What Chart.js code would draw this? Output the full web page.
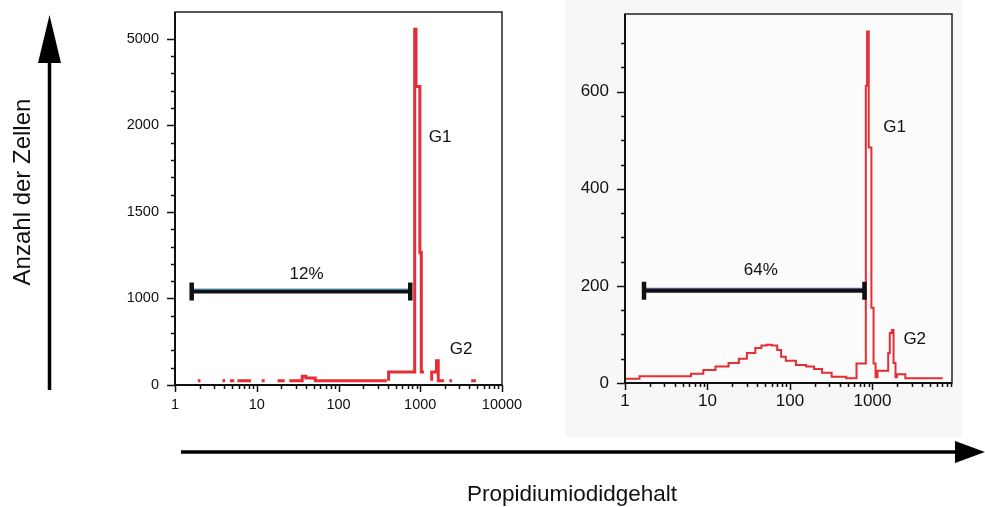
<!DOCTYPE html>
<html>
<head>
<meta charset="utf-8">
<script src="https://cdn.jsdelivr.net/npm/chart.js@4.4.1/dist/chart.umd.min.js"></script>
<style>
  body { margin: 0; background: #fff; font-family: "Liberation Sans", Arial, sans-serif; }
  #wrap { position: relative; width: 985px; height: 507px; overflow: hidden; }
  .box { position: absolute; }
  #rbg { position: absolute; left: 565px; top: 0; width: 397px; height: 437px; background: #f7f7f7; }
  #ylab { position: absolute; left: 22px; top: 192px; transform: translate(-50%, -50%) rotate(-90deg);
          font-size: 24px; color: #111; white-space: nowrap; }
  #xlab { position: absolute; left: 572px; top: 494px; transform: translate(-50%, -50%);
          font-size: 22.5px; color: #111; white-space: nowrap; }
  svg { position: absolute; left: 0; top: 0; }
</style>
</head>
<body>
<div id="wrap">
  <div id="rbg"></div>
  <div class="box" style="left:100px;top:0"><canvas id="leftChart" width="430" height="430"></canvas></div>
  <div class="box" style="left:560px;top:0"><canvas id="rightChart" width="410" height="440"></canvas></div>
  <svg width="985" height="507">
    <line x1="49.5" y1="390" x2="49.5" y2="60" stroke="#000" stroke-width="3.5"/>
    <polygon points="38,63 61,63 49.5,15" fill="#000"/>
    <line x1="181" y1="452" x2="958" y2="452" stroke="#000" stroke-width="3.5"/>
    <polygon points="955,441 955,463 985,452" fill="#000"/>
  </svg>
  <div id="ylab">Anzahl der Zellen</div>
  <div id="xlab">Propidiumiodidgehalt</div>
</div>

<script>
// ---- left panel (12%) ----
var leftTickValues = [0, 1000, 1500, 2000, 5000];   // broken y axis, one step per label
var leftPi = [1.9, 2.05, 2.1, 3.8, 4.1, 4.3, 4.7, 5.3, 5.5, 5.8, 8.5, 9, 11.5, 12.5, 13,
              18, 22, 23, 25, 36, 40, 52, 58, 390, 400, 410, 855, 887, 990, 1030, 1070, 1110, 1120,
              1380, 1580, 1660, 1950, 2100, 2270, 2450, 2500, 4200, 4800, 4900];
var leftCount = [50, 50, null, 50, 50, null, 50, 50, null, 50, 50, null, 50, 50, null,
                 50, 50, null, 50, 50, 100, 80, 50, 50, null, 50, 150, 5330, 3350, 1265, 150, 150, null,
                 50, 150, 280, 50, null, 50, 50, null, 50, 50, null];
var leftBarPi = [1.6, 755];
var leftBarCount = 1040;
var leftNotes = [["G1", 1754, 1930], ["G2", 3162, 417], ["12%", 40.7, 1137]];

// ---- right panel (64%) ----
var rightPi = [1, 1.5, 6.3, 8.9, 12.5, 18, 24, 30, 38, 45, 52, 60, 70, 78, 89, 118, 157, 196, 245,
               320, 480, 640, 830, 860, 900, 970, 1030, 1090, 1150, 1550, 1620, 1720, 1800, 1900,
               1980, 2500, 2800, 7100];
var rightCount = [11, 9, 14, 19, 27, 34, 41, 50, 62, 72, 77, 79, 77, 68, 54, 46, 37, 34, 29,
                  21, 13, 10, 40, 612, 724, 485, 155, 40, 12, 25, 62, 103, 109, 41,
                  12, 18, 10, 10];
var rightBarPi = [1.7, 800];
var rightBarCount = 190;
var rightNotes = [["G1", 1854, 526], ["G2", 3250, 91], ["64%", 44.3, 233]];

var red = "#e52d35";

function leftAxisPos(v) {
    if (v === null) return null;
    var t = leftTickValues;
    for (var i = 1; i < t.length; i++) {
        if (v <= t[i]) return (i - 1) + (v - t[i - 1]) / (t[i] - t[i - 1]);
    }
    var n = t.length - 1;
    return n + (v - t[n]) / (t[n] - t[n - 1]);
}

function isPow10(v) {
    var e = Math.round(Math.log10(v));
    return Math.abs(v - Math.pow(10, e)) < 1e-6 * v;
}

// ticks, frame and text labels drawn with the chart's own scales
var framePlugin = {
    id: "frame",
    beforeDraw: function(chart, args, opts) {
        if (!opts.bg) return;
        var a = chart.chartArea, ctx = chart.ctx;
        ctx.save();
        ctx.fillStyle = opts.bg;
        ctx.fillRect(a.left, a.top, a.right - a.left, a.bottom - a.top);
        ctx.restore();
    },
    afterDraw: function(chart, args, opts) {
        var ctx = chart.ctx, a = chart.chartArea, x = chart.scales.x, y = chart.scales.y;
        ctx.save();
        ctx.strokeStyle = "#222";
        ctx.lineWidth = 1.5;
        ctx.strokeRect(a.left, a.top, a.right - a.left, a.bottom - a.top);
        ctx.strokeStyle = "#111";
        ctx.lineWidth = 2;
        ctx.beginPath();
        ctx.moveTo(a.left, a.top); ctx.lineTo(a.left, a.bottom); ctx.lineTo(a.right, a.bottom);
        ctx.stroke();

        ctx.lineWidth = 1.5;
        ctx.beginPath();
        x.ticks.forEach(function(t) {
            var v = t.value;
            var e = Math.floor(Math.log10(v) + 1e-9);
            var m = v / Math.pow(10, e);
            if (Math.abs(m - Math.round(m)) > 1e-6) return;
            var px = Math.round(x.getPixelForValue(v)) + 0.5;
            ctx.moveTo(px, a.bottom);
            ctx.lineTo(px, a.bottom + (isPow10(v) ? 7 : 4));
        });
        y.ticks.forEach(function(t) {
            var v = t.value;
            var k = v / opts.minor;
            if (Math.abs(k - Math.round(k)) > 1e-6) return;
            var m = v / opts.major;
            var major = Math.abs(m - Math.round(m)) < 1e-6;
            var py = Math.round(y.getPixelForValue(v)) + 0.5;
            ctx.moveTo(a.left, py);
            ctx.lineTo(a.left - (major ? 8 : 4), py);
        });
        ctx.stroke();

        ctx.fillStyle = "#111";
        ctx.font = opts.noteSize + 'px "Liberation Sans", Arial, sans-serif';
        ctx.textAlign = "center";
        ctx.textBaseline = "middle";
        opts.notes.forEach(function(n) {
            ctx.fillText(n[0], x.getPixelForValue(n[1]), y.getPixelForValue(opts.toAxis(n[2])));
        });
        ctx.restore();
    }
};

function points(xs, ys, toAxis) {
    return xs.map(function(v, i) {
        return { x: v, y: ys[i] === null ? null : toAxis(ys[i]) };
    });
}

function bracketSets(xs, count, toAxis, accent, accentCount) {
    return [{
        data: xs.map(function(v) { return { x: v, y: toAxis(accentCount) }; }),
        borderColor: accent, borderWidth: 1, pointRadius: 0, order: 1
    }, {
        data: xs.map(function(v) { return { x: v, y: toAxis(count) }; }),
        borderColor: "#111", borderWidth: 4, pointStyle: "line", rotation: 90,
        pointRadius: 9, pointBorderWidth: 4.5, pointBorderColor: "#111", order: 0
    }];
}

function createChart(id, cfg) {
    var config = {
        type: "line",
        data: {
            datasets: [{
                data: points(cfg.pi, cfg.count, cfg.toAxis),
                borderColor: red, borderWidth: cfg.lineWidth, stepped: "after",
                pointRadius: 0, spanGaps: false, order: 2
            }].concat(bracketSets(cfg.barPi, cfg.barCount, cfg.toAxis, cfg.accent, cfg.accentCount))
        },
        options: {
            responsive: false,
            animation: false,
            layout: { padding: cfg.padding, autoPadding: false },
            plugins: {
                legend: { display: false },
                tooltip: { enabled: false },
                frame: { bg: cfg.bg, minor: cfg.minor, major: cfg.major, notes: cfg.notes,
                         noteSize: 17, toAxis: cfg.toAxis }
            },
            scales: {
                x: {
                    type: "logarithmic", min: 1, max: cfg.xMax,
                    grid: { display: false, drawTicks: false }, border: { display: false },
                    ticks: {
                        autoSkip: false, maxRotation: 0, padding: cfg.xPad, color: "#111",
                        font: { family: '"Liberation Sans", Arial, sans-serif', size: cfg.tickSize },
                        callback: function(v) { return isPow10(v) ? String(Math.round(v)) : ""; }
                    },
                    afterFit: function(s) { s.height = 30; s.paddingLeft = 0; s.paddingRight = 0; }
                },
                y: {
                    type: "linear", min: 0, max: cfg.yMax,
                    grid: { display: false, drawTicks: false }, border: { display: false },
                    ticks: {
                        stepSize: cfg.minor, padding: 16, color: "#111", autoSkip: false,
                        font: { family: '"Liberation Sans", Arial, sans-serif', size: cfg.tickSize },
                        callback: cfg.yLabel
                    },
                    afterFit: function(s) { s.width = cfg.yWidth; s.paddingTop = 0; s.paddingBottom = 0; }
                }
            }
        },
        plugins: [framePlugin]
    };
    return new Chart(document.getElementById(id), config);
}

createChart("leftChart", {
    pi: leftPi, count: leftCount, barPi: leftBarPi, barCount: leftBarCount,
    accent: "#4ab4e4", accentCount: leftBarCount + 15, notes: leftNotes,
    toAxis: leftAxisPos, lineWidth: 3, xMax: 10000, yMax: 4.31, minor: 0.2, major: 1,
    yLabel: function(v) {
        var i = Math.round(v);
        return Math.abs(v - i) < 1e-6 && i < leftTickValues.length ? String(leftTickValues[i]) : "";
    },
    padding: { left: 0, right: 28, top: 12, bottom: 15 }, yWidth: 75,
    xPad: 11, tickSize: 14.5, bg: null
});

createChart("rightChart", {
    pi: rightPi, count: rightCount, barPi: rightBarPi, barCount: rightBarCount,
    accent: "#5a3ca0", accentCount: rightBarCount + 5, notes: rightNotes,
    toAxis: function(v) { return v; }, lineWidth: 2, xMax: 9200, yMax: 760, minor: 50, major: 200,
    yLabel: function(v) { return v % 200 === 0 ? String(v) : ""; },
    padding: { left: 0, right: 18, top: 14, bottom: 27 }, yWidth: 65,
    xPad: 8, tickSize: 17, bg: "#fbfbfb"
});
</script>
</body>
</html>
